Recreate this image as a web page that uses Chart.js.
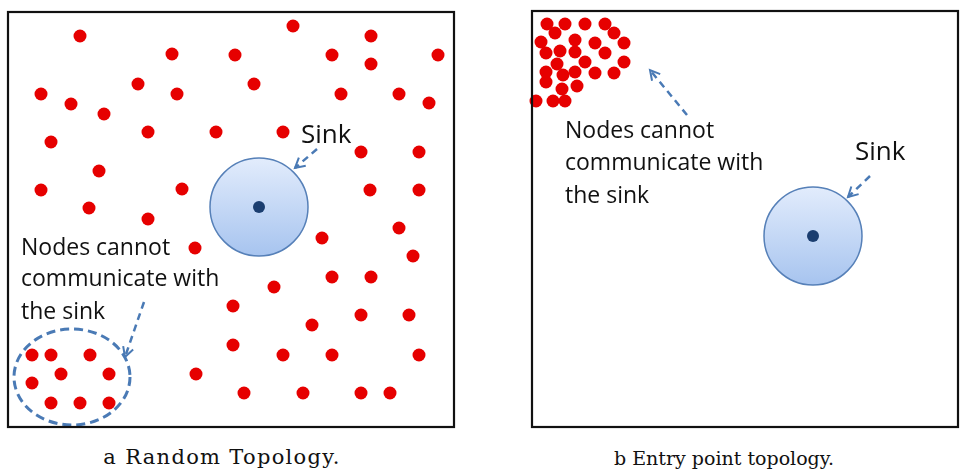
<!DOCTYPE html>
<html>
<head>
<meta charset="utf-8">
<script src="https://cdn.jsdelivr.net/npm/chart.js@4.4.0/dist/chart.umd.min.js"></script>
<style>
  body { margin: 0; background: #fff; width: 968px; height: 472px; position: relative; overflow: hidden; }
  .panel { position: absolute; top: 0; }
  .caption { position: absolute; top: 447px; font-family: "DejaVu Serif", serif; font-size: 19px; color: #111; text-align: center; }
</style>
</head>
<body>
<div class="panel" style="left:0"><canvas id="randomChart" width="464" height="436"></canvas></div>
<div class="panel" style="left:522px"><canvas id="entryChart" width="446" height="436"></canvas></div>
<div class="caption" style="left:0; width:444px; font-size:21px; letter-spacing:1.3px; top:445px">a Random Topology.</div>
<div class="caption" style="left:522px; width:404px">b Entry point topology.</div>

<script>
// node positions, field units (y measured downward from the top edge)
const randomNodes = [
    [72,24],[285,14],[363,24],[164,42],[227,43],[324,43],[363,52],[430,43],
    [33,82],[63,92],[130,72],[169,82],[246,72],[333,82],[391,82],[421,91],
    [96,102],[43,130],[140,120],[208,120],[275,120],[353,140],[411,140],
    [91,159],[33,178],[174,177],[362,178],[411,178],[81,196],[140,207],
    [391,216],[314,226],[187,236],[405,244],[266,275],[324,265],[363,265],
    [225,294],[353,303],[401,303],[304,313],[225,333],[275,343],[324,343],
    [411,343],[188,362],[236,381],[295,381],[353,381],[382,381]
];
const isolatedNodes = [
    [24,343],[43,343],[82,343],[53,362],[101,362],[24,371],[43,391],[72,391],[101,391]
];
const entryNodes = [
    [15,13],[33,13],[53,13],[73,13],[23,22],[82,22],[9,31],[43,29],[63,32],[92,32],
    [14,42],[28,40],[43,41],[73,42],[25,53],[53,51],[92,51],[14,61],[31,64],[43,61],
    [63,62],[82,62],[14,71],[30,78],[45,75],[4,90],[21,90],[33,90]
];

// sink: [x, y, range]
const randomSink = [251, 195, 49];
const entrySink = [281, 225, 49];

// field size [width, height]
const randomField = [446, 415];
const entryField = [426, 416];

// isolated region ellipse: [cx, cy, rx, ry]
const isolatedRegion = [64, 365, 58, 48];

// labels: [text, x, y, size]
const randomLabels = [
    ["Sink", 293, 131, 26],
    ["Nodes cannot", 13, 243, 23],
    ["communicate with", 13, 274, 23],
    ["the sink", 13, 307, 23]
];
const entryLabels = [
    ["Sink", 323, 149, 26],
    ["Nodes cannot", 33, 127, 23],
    ["communicate with", 33, 159, 23],
    ["the sink", 33, 192, 23]
];

// arrows: [fromX, fromY, toX, toY]
const randomArrows = [[309,137,287,156],[136,290,117,345]];
const entryArrows = [[155,104,118,59],[338,165,316,186]];

const toPoints = list => list.map(p => ({x: p[0], y: p[1]}));

const diagramPlugin = {
    id: 'diagram',
    beforeDatasetsDraw(chart, args, opts) {
        const ctx = chart.ctx;
        const xs = chart.scales.x, ys = chart.scales.y;
        const s = opts.sink;
        const cx = xs.getPixelForValue(s[0]), cy = ys.getPixelForValue(s[1]);
        const r = xs.getPixelForValue(s[0] + s[2]) - cx;
        const grad = ctx.createLinearGradient(0, cy - r, 0, cy + r);
        grad.addColorStop(0, '#e2ecfc');
        grad.addColorStop(1, '#a7c4ef');
        ctx.save();
        ctx.beginPath();
        ctx.arc(cx, cy, r, 0, Math.PI * 2);
        ctx.fillStyle = grad;
        ctx.fill();
        ctx.lineWidth = 1.5;
        ctx.strokeStyle = '#5680b8';
        ctx.stroke();

        if (opts.region) {
            const e = opts.region;
            const ex = xs.getPixelForValue(e[0]), ey = ys.getPixelForValue(e[1]);
            const rx = xs.getPixelForValue(e[0] + e[2]) - ex;
            const ry = ys.getPixelForValue(e[1] + e[3]) - ey;
            ctx.beginPath();
            ctx.ellipse(ex, ey, rx, Math.abs(ry), 0, 0, Math.PI * 2);
            ctx.setLineDash([9, 5]);
            ctx.lineWidth = 3;
            ctx.strokeStyle = '#4a7ab5';
            ctx.stroke();
        }
        ctx.restore();
    },
    afterDatasetsDraw(chart, args, opts) {
        const ctx = chart.ctx;
        const xs = chart.scales.x, ys = chart.scales.y;
        ctx.save();
        // arrows
        opts.arrows.forEach(a => {
            const x1 = xs.getPixelForValue(a[0]), y1 = ys.getPixelForValue(a[1]);
            const x2 = xs.getPixelForValue(a[2]), y2 = ys.getPixelForValue(a[3]);
            ctx.strokeStyle = '#4a7ab5';
            ctx.lineWidth = 2.5;
            ctx.setLineDash([7, 5]);
            ctx.beginPath();
            ctx.moveTo(x1, y1);
            ctx.lineTo(x2, y2);
            ctx.stroke();
            const ang = Math.atan2(y2 - y1, x2 - x1);
            ctx.setLineDash([]);
            ctx.lineWidth = 2;
            ctx.beginPath();
            ctx.moveTo(x2 - 11 * Math.cos(ang - 0.5), y2 - 11 * Math.sin(ang - 0.5));
            ctx.lineTo(x2, y2);
            ctx.lineTo(x2 - 11 * Math.cos(ang + 0.5), y2 - 11 * Math.sin(ang + 0.5));
            ctx.stroke();
        });
        // labels
        ctx.fillStyle = '#111';
        ctx.textBaseline = 'alphabetic';
        ctx.textAlign = 'left';
        opts.labels.forEach(l => {
            ctx.font = l[3] + 'px "Open Sans"';
            ctx.fillText(l[0], xs.getPixelForValue(l[1]), ys.getPixelForValue(l[2]));
        });
        // frame
        const a = chart.chartArea;
        ctx.strokeStyle = '#111';
        ctx.lineWidth = 2.2;
        ctx.strokeRect(a.left, a.top, a.right - a.left, a.bottom - a.top);
        ctx.restore();
    }
};

function makeChart(id, field, padding, datasets, diagram) {
    return new Chart(document.getElementById(id), {
        type: 'scatter',
        data: { datasets: datasets },
        options: {
            responsive: false,
            animation: false,
            layout: { padding: padding },
            scales: {
                x: { display: false, min: 0, max: field[0] },
                y: { display: false, min: 0, max: field[1], reverse: true }
            },
            plugins: {
                legend: { display: false },
                tooltip: { enabled: false },
                diagram: diagram
            }
        },
        plugins: [diagramPlugin]
    });
}

const nodeStyle = { pointRadius: 6.5, backgroundColor: '#e60000', borderWidth: 0, clip: false };
const sinkStyle = { pointRadius: 6, backgroundColor: '#1b3e70', borderWidth: 0, clip: false };

makeChart('randomChart', randomField, { left: 8, top: 12, right: 10, bottom: 9 }, [
    Object.assign({ label: 'Sink', data: toPoints([randomSink]) }, sinkStyle),
    Object.assign({ label: 'Nodes', data: toPoints(randomNodes) }, nodeStyle),
    Object.assign({ label: 'Isolated nodes', data: toPoints(isolatedNodes) }, nodeStyle)
], { sink: randomSink, region: isolatedRegion, arrows: randomArrows, labels: randomLabels });

makeChart('entryChart', entryField, { left: 10, top: 11, right: 10, bottom: 9 }, [
    Object.assign({ label: 'Sink', data: toPoints([entrySink]) }, sinkStyle),
    Object.assign({ label: 'Nodes', data: toPoints(entryNodes) }, nodeStyle)
], { sink: entrySink, region: null, arrows: entryArrows, labels: entryLabels });
</script>
</body>
</html>
